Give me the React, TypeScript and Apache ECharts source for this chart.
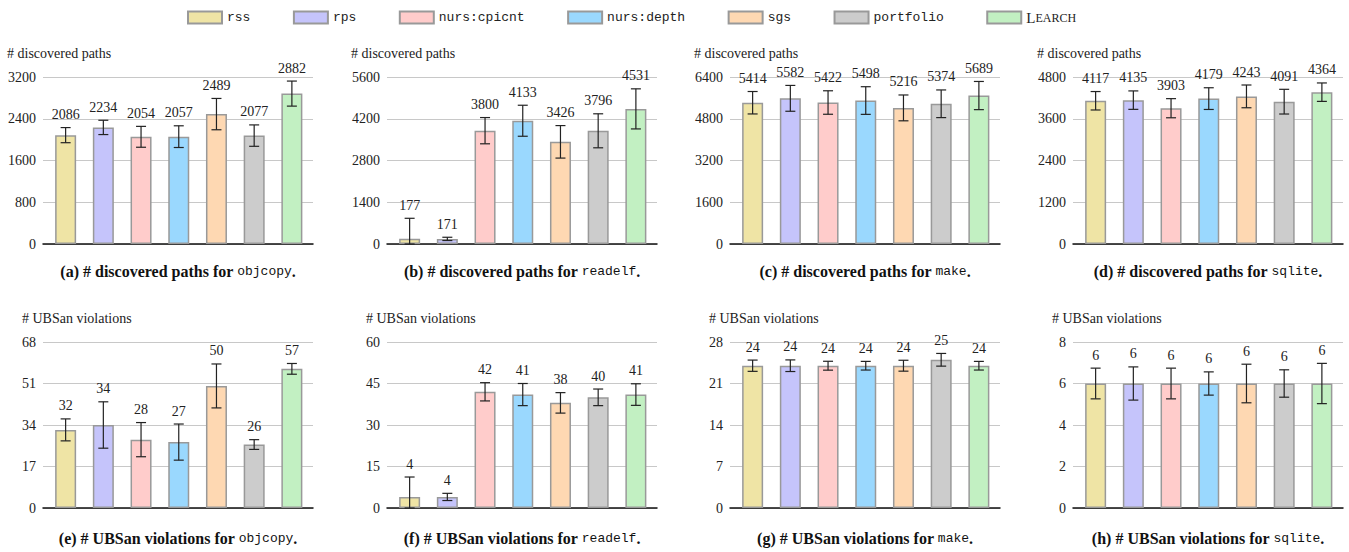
import React, { useEffect, useRef } from "react";
import * as echarts from "echarts";

const methods = ["rss", "rps", "nurs:cpicnt", "nurs:depth", "sgs", "portfolio", "Learch"];
const methodColors = ["#efe4a5", "#c5c4fb", "#ffcccb", "#9ad8fe", "#fed8b2", "#cccccc", "#c2f0c2"];

const pathsObjcopy = [2086, 2234, 2054, 2057, 2489, 2077, 2882];
const pathsObjcopyErr = [145, 137, 200, 208, 300, 205, 240];
const pathsReadelf = [177, 171, 3800, 4133, 3426, 3796, 4531];
const pathsReadelfErr = [685, 55, 440, 520, 545, 570, 672];
const pathsMake = [5414, 5582, 5422, 5498, 5216, 5374, 5689];
const pathsMakeErr = [430, 495, 450, 530, 495, 530, 540];
const pathsSqlite = [4117, 4135, 3903, 4179, 4243, 4091, 4364];
const pathsSqliteErr = [265, 265, 275, 312, 327, 355, 265];
const ubsanObjcopy = [32, 34, 28, 27, 50, 26, 57];
const ubsanObjcopyErr = [4.5, 9.5, 7, 7.4, 9, 2, 2.2];
const ubsanReadelf = [4, 4, 42, 41, 38, 40, 41];
const ubsanReadelfErr = [7.2, 1.3, 3.3, 4, 3.7, 3, 3.9];
const ubsanMake = [24, 24, 24, 24, 24, 25, 24];
const ubsanMakeErr = [0.95, 0.98, 0.75, 0.73, 0.92, 1.07, 0.73];
const ubsanSqlite = [6, 6, 6, 6, 6, 6, 6];
const ubsanSqliteErr = [0.74, 0.8, 0.74, 0.56, 0.93, 0.66, 0.97];

const panelValues = [pathsObjcopy, pathsReadelf, pathsMake, pathsSqlite, ubsanObjcopy, ubsanReadelf, ubsanMake, ubsanSqlite];
const panelErrors = [pathsObjcopyErr, pathsReadelfErr, pathsMakeErr, pathsSqliteErr, ubsanObjcopyErr, ubsanReadelfErr, ubsanMakeErr, ubsanSqliteErr];
const yMaxes = [3200, 5600, 6400, 4800, 68, 60, 28, 8];
const ySteps = [800, 1400, 1600, 1200, 17, 15, 7, 2];
const yTitles = ["# discovered paths", "# UBSan violations"];
const captionLetters = ["a", "b", "c", "d", "e", "f", "g", "h"];
const captionMetrics = ["# discovered paths", "# discovered paths", "# discovered paths", "# discovered paths", "# UBSan violations", "# UBSan violations", "# UBSan violations", "# UBSan violations"];
const programs = ["objcopy", "readelf", "make", "sqlite", "objcopy", "readelf", "make", "sqlite"];

const SERIF = '"Liberation Serif", "Times New Roman", serif';
const MONO = '"Liberation Mono", monospace';

const gridLefts = [43, 387, 730, 1073];
const gridWidth = 270;
const rowTops = [77, 342];
const rowHeights = [167, 166];
const captionYs = [271, 538];

export default function App() {
  const ref = useRef<HTMLDivElement>(null);
  useEffect(() => {
    document.body.style.margin = "0";
    if (!ref.current) return;
    const chart = echarts.init(ref.current, null, { renderer: "svg" });

    const grids: any[] = [];
    const xAxes: any[] = [];
    const yAxes: any[] = [];
    const series: any[] = [];
    const graphics: any[] = [];

    for (let p = 0; p < 8; p++) {
      const col = p % 4;
      const row = Math.floor(p / 4);
      grids.push({ left: gridLefts[col], top: rowTops[row], width: gridWidth, height: rowHeights[row] });
      xAxes.push({
        gridIndex: p,
        type: "value",
        min: -0.6,
        max: 6.56,
        axisLine: { show: true, onZero: false, lineStyle: { color: "#111", width: 1.5 } },
        axisTick: { show: false },
        axisLabel: { show: false },
        splitLine: { show: false },
      });
      yAxes.push({
        gridIndex: p,
        type: "value",
        min: 0,
        max: yMaxes[p],
        interval: ySteps[p],
        axisLine: { show: false },
        axisTick: { show: false },
        axisLabel: {
          fontFamily: SERIF,
          fontSize: 14,
          color: "#222",
          margin: 7,
          formatter: (v: number) => String(v),
        },
        splitLine: { show: true, lineStyle: { color: "#c8c8c8", width: 1.2 } },
      });
      const vals = panelValues[p];
      const errs = panelErrors[p];
      methods.forEach((m, i) => {
        series.push({
          name: m,
          type: "bar",
          xAxisIndex: p,
          yAxisIndex: p,
          barWidth: 21,
          barGap: "-100%",
          data: [[i, vals[i]]],
          itemStyle: { color: methodColors[i], borderColor: "#999999", borderWidth: 1.5 },
          z: 2,
        });
      });
      series.push({
        type: "custom",
        xAxisIndex: p,
        yAxisIndex: p,
        z: 5,
        clip: false,
        encode: { x: 0, y: 1 },
        data: vals.map((v, i) => [i, v, errs[i]]),
        renderItem: (params: any, api: any) => {
          const x = api.value(0);
          const v = api.value(1);
          const e = api.value(2);
          const top = api.coord([x, v + e]);
          const bot = api.coord([x, Math.max(0, v - e)]);
          const cx = top[0];
          const cap = 5;
          const ls = { stroke: "#222", lineWidth: 1.2 };
          return {
            type: "group",
            children: [
              { type: "line", shape: { x1: cx, y1: top[1], x2: cx, y2: bot[1] }, style: ls },
              { type: "line", shape: { x1: cx - cap, y1: top[1], x2: cx + cap, y2: top[1] }, style: ls },
              { type: "line", shape: { x1: cx - cap, y1: bot[1], x2: cx + cap, y2: bot[1] }, style: ls },
              {
                type: "text",
                x: cx,
                y: top[1] - 13,
                style: { text: String(v), align: "center", verticalAlign: "middle", font: `14px ${SERIF}`, fill: "#222" },
              },
            ],
          };
        },
      });
      graphics.push({
        type: "text",
        x: gridLefts[col] - (row === 0 ? 36 : 21),
        y: rowTops[row] - 24,
        style: { text: yTitles[row], font: `14px ${SERIF}`, fill: "#222", align: "left", verticalAlign: "middle" },
      });
      graphics.push({
        type: "text",
        x: gridLefts[col] + gridWidth / 2,
        y: captionYs[row],
        style: {
          text: `{b|(${captionLetters[p]}) ${captionMetrics[p]} for }{m|${programs[p]}}{b|.}`,
          align: "center",
          verticalAlign: "middle",
          rich: {
            b: { fontFamily: SERIF, fontWeight: "bold", fontSize: 16, fill: "#111", color: "#111" },
            m: { fontFamily: MONO, fontSize: 13, fill: "#111", color: "#111" },
          },
        },
      });
    }

    chart.setOption({
      animation: false,
      backgroundColor: "#ffffff",
      legend: {
        data: methods,
        left: 187,
        top: 10,
        padding: 0,
        itemWidth: 34,
        itemHeight: 12,
        itemGap: 42.5,
        icon: "rect",
        selectedMode: false,
        textStyle: {
          fontFamily: MONO,
          fontSize: 13,
          color: "#222",
          rich: {
            l: { fontFamily: SERIF, fontSize: 15, color: "#222" },
            s: { fontFamily: SERIF, fontSize: 12, color: "#222" },
          },
        },
        formatter: (name: string) => (name === "Learch" ? "{l|L}{s|EARCH}" : name),
      },
      grid: grids,
      xAxis: xAxes,
      yAxis: yAxes,
      series,
      graphic: graphics,
    });
    return () => chart.dispose();
  }, []);
  return <div ref={ref} style={{ width: 1349, height: 552 }} />;
}
